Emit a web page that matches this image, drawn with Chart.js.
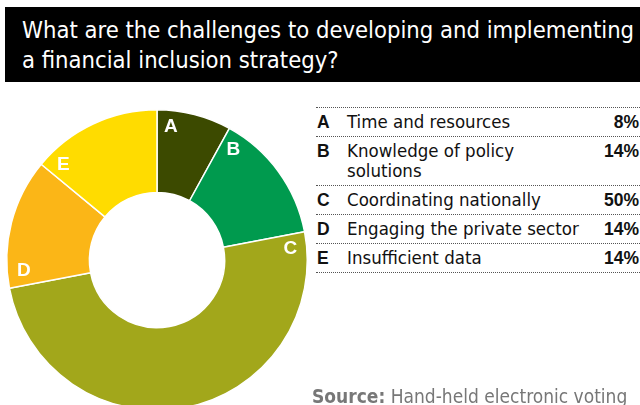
<!DOCTYPE html>
<html>
<head>
<meta charset="utf-8">
<script src="https://cdn.jsdelivr.net/npm/chart.js@4"></script>
<style>
  html, body {
    margin: 0;
    padding: 0;
    width: 640px;
    height: 405px;
    overflow: hidden;
    background: #fff;
    font-family: "DejaVu Sans Condensed", "DejaVu Sans", sans-serif;
  }
  #title {
    position: absolute;
    left: 5px;
    top: 7px;
    width: 635px;
    height: 75px;
    background: #000;
    color: #fff;
    font-size: 23.6px;
    line-height: 30px;
    padding: 8px 0 0 17px;
    box-sizing: border-box;
    white-space: nowrap;
    overflow: hidden;
  }
  #chart-box {
    position: absolute;
    left: 1px;
    top: 104px;
    width: 312px;
    height: 312px;
  }
  #legend {
    position: absolute;
    left: 316px;
    top: 107px;
    width: 324px;
    border-top: 1px dotted #555;
  }
  .row {
    display: flex;
    align-items: flex-start;
    border-bottom: 1px dotted #555;
    font-size: 18.5px;
    line-height: 20px;
    padding: 4px 0 4px 0;
    color: #111;
  }
  .row .key {
    width: 30px;
    font-family: "Liberation Sans", Arial, sans-serif;
    font-weight: bold;
    font-size: 17.5px;
    padding-left: 1px;
  }
  .row .name {
    flex: 1;
  }
  .row .pct {
    width: 50px;
    text-align: right;
    font-weight: bold;
    font-family: "Liberation Sans", Arial, sans-serif;
    font-size: 17.5px;
    padding-right: 1px;
  }
  #source {
    position: absolute;
    left: 312px;
    top: 385px;
    font-size: 19px;
    color: #777;
    white-space: nowrap;
  }
</style>
</head>
<body>
<div id="title">What are the challenges to developing and implementing<br>a financial inclusion strategy?</div>
<div id="chart-box"><canvas id="challenges"></canvas></div>
<div id="legend"></div>
<div id="source"><b>Source:</b> Hand-held electronic voting</div>

<script>
const keys = ["A", "B", "C", "D", "E"];
const names = [
  "Time and resources",
  "Knowledge of policy solutions",
  "Coordinating nationally",
  "Engaging the private sector",
  "Insufficient data",
];
const shares = [8, 14, 50, 14, 14];
const colors = ["#3c4a00", "#009a4e", "#a2a71b", "#fbb617", "#ffdc00"];

// legend table
function buildLegend() {
  const box = document.getElementById("legend");
  keys.forEach((k, i) => {
    let row = document.createElement("div");
    row.className = "row";
    row.innerHTML =
      '<span class="key">' + k + "</span>" +
      '<span class="name">' + names[i] + "</span>" +
      '<span class="pct">' + shares[i] + "%</span>";
    box.appendChild(row);
  });
}

// white letters near the start edge of each slice
const sliceLetters = {
  id: "sliceLetters",
  afterDatasetsDraw(chart) {
    const ctx = chart.ctx;
    const meta = chart.getDatasetMeta(0);
    ctx.save();
    ctx.fillStyle = "#fff";
    ctx.font = "bold 19px 'Liberation Sans', Arial, sans-serif";
    ctx.textAlign = "center";
    ctx.textBaseline = "middle";
    meta.data.forEach((arc, i) => {
      const a = arc.startAngle + (6 * Math.PI) / 180;
      const r = arc.outerRadius * 0.89;
      ctx.fillText(keys[i], arc.x + Math.cos(a) * r, arc.y + Math.sin(a) * r);
    });
    ctx.restore();
  },
};

document.addEventListener("DOMContentLoaded", () => {
  buildLegend();

  const ctx = document.querySelector("canvas#challenges").getContext("2d");

  new Chart(ctx, {
    type: "doughnut",
    data: {
      labels: names,
      datasets: [
        {
          data: [...shares],
          backgroundColor: colors,
          borderColor: "#fff",
          borderWidth: 1.5,
        },
      ],
    },
    options: {
      responsive: true,
      maintainAspectRatio: false,
      animation: false,
      cutout: "45%",
      layout: {
        padding: 5,
      },
      plugins: {
        legend: {
          display: false,
        },
        tooltip: {
          enabled: false,
        },
      },
    },
    plugins: [sliceLetters],
  });
});
</script>
</body>
</html>
